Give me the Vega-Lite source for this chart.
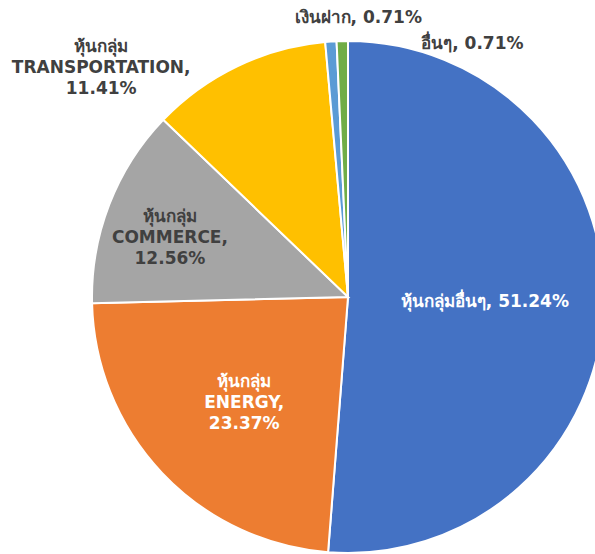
{
  "$schema": "https://vega.github.io/schema/vega-lite/v6.json",
  "width": 496,
  "height": 514,
  "padding": {"left": 100, "top": 40, "right": 0, "bottom": 0},
  "autosize": {"type": "none"},
  "background": "white",
  "config": {"view": {"stroke": null}, "text": {"font": "'DejaVu Sans', sans-serif", "fontSize": 17, "fontWeight": "bold", "lineBreak": "\n", "lineHeight": 21}},
  "data": {
    "values": [
      {"rank": 1, "cat": "หุ้นกลุ่มอื่นๆ", "value": 51.24, "label": "หุ้นกลุ่มอื่นๆ, 51.24%"},
      {"rank": 2, "cat": "หุ้นกลุ่ม ENERGY", "value": 23.37, "label": "หุ้นกลุ่ม\nENERGY,\n23.37%"},
      {"rank": 3, "cat": "หุ้นกลุ่ม COMMERCE", "value": 12.56, "label": "หุ้นกลุ่ม\nCOMMERCE,\n12.56%"},
      {"rank": 4, "cat": "หุ้นกลุ่ม TRANSPORTATION", "value": 11.41, "label": "หุ้นกลุ่ม\nTRANSPORTATION,\n11.41%"},
      {"rank": 5, "cat": "เงินฝาก", "value": 0.71, "label": "เงินฝาก, 0.71%"},
      {"rank": 6, "cat": "อื่นๆ", "value": 0.71, "label": "อื่นๆ, 0.71%"}
    ]
  },
  "encoding": {
    "theta": {"field": "value", "type": "quantitative", "stack": true},
    "order": {"field": "rank", "type": "quantitative"}
  },
  "layer": [
    {
      "mark": {"type": "arc", "outerRadius": 256, "stroke": "white", "strokeWidth": 2},
      "encoding": {
        "color": {
          "field": "cat", "type": "nominal", "legend": null,
          "scale": {
            "domain": ["หุ้นกลุ่มอื่นๆ", "หุ้นกลุ่ม ENERGY", "หุ้นกลุ่ม COMMERCE", "หุ้นกลุ่ม TRANSPORTATION", "เงินฝาก", "อื่นๆ"],
            "range": ["#4472C4", "#ED7D31", "#A5A5A5", "#FFC000", "#5B9BD5", "#70AD47"]
          }
        }
      }
    },
    {
      "mark": {"type": "text", "radius": 137, "color": "white"},
      "encoding": {"text": {"condition": {"test": "datum.rank === 1", "field": "label"}, "value": ""}}
    },
    {
      "mark": {"type": "text", "radius": 143, "dy": -13, "color": "white"},
      "encoding": {"text": {"condition": {"test": "datum.rank === 2", "field": "label"}, "value": ""}}
    },
    {
      "mark": {"type": "text", "radius": 191, "dy": -11, "color": "#404040"},
      "encoding": {"text": {"condition": {"test": "datum.rank === 3", "field": "label"}, "value": ""}}
    },
    {
      "mark": {"type": "text", "radius": 256, "dx": -136, "dy": -19, "color": "#404040"},
      "encoding": {"text": {"condition": {"test": "datum.rank === 4", "field": "label"}, "value": ""}}
    },
    {
      "mark": {"type": "text", "radius": 280, "dx": 29, "color": "#404040"},
      "encoding": {"text": {"condition": {"test": "datum.rank === 5", "field": "label"}, "value": ""}}
    },
    {
      "mark": {"type": "text", "radius": 253, "dx": 130, "color": "#404040"},
      "encoding": {"text": {"condition": {"test": "datum.rank === 6", "field": "label"}, "value": ""}}
    }
  ]
}
